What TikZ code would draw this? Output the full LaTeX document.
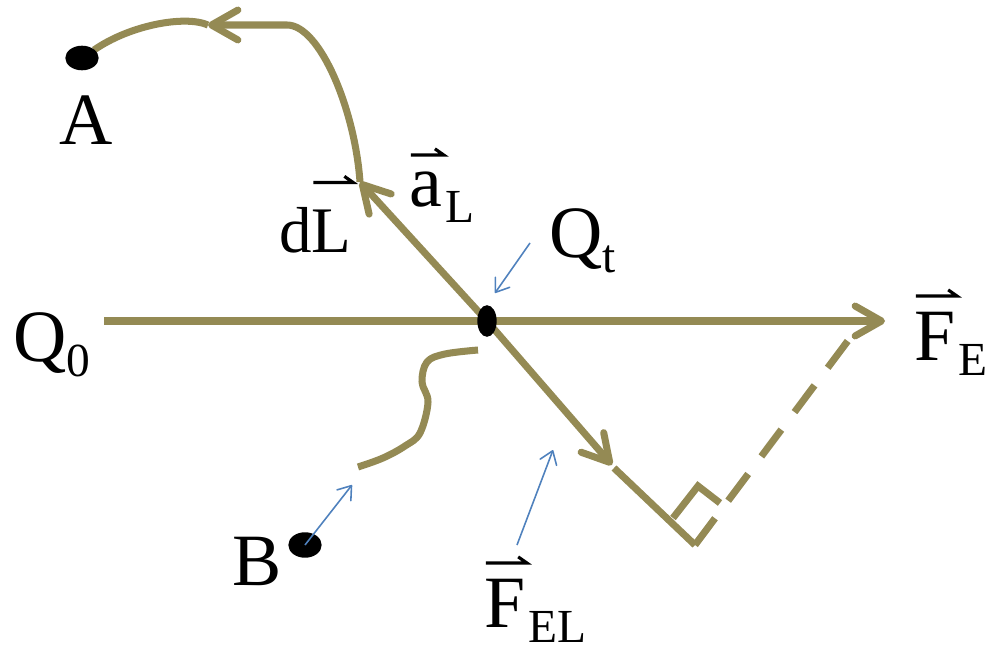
\documentclass[tikz,border=0pt]{standalone}
\usepackage{fontspec}
\setmainfont{Liberation Serif}
\usetikzlibrary{arrows.meta,shapes.geometric}

\definecolor{fieldline}{RGB}{148,138,84}
\definecolor{pointer}{RGB}{79,129,189}
\newsavebox\vecbox
\newcommand{\vecop}[2][8pt]{\sbox\vecbox{#2}\vbox{\offinterlineskip
  \hbox{\tikz\draw[line width=1.8pt] (0pt,0pt) -- (\wd\vecbox,0pt) -- ++(-5pt,3.5pt);}\kern#1\copy\vecbox}}
\newcommand{\lowsub}[1]{\raisebox{-9pt}{\fontsize{27}{31}\selectfont #1}}

\tikzset{
  field/.style={draw=fieldline, line width=4pt},
  fieldarrow/.style={field, -{Straight Barb[round, length=15pt, width=17pt]}},
  pointerarrow/.style={draw=pointer, line width=0.9pt, -{Straight Barb[round, length=7pt, width=10pt]}},
  charge/.style={ellipse, fill=black, inner sep=0pt},
  lbl/.style={inner sep=0pt, font=\fontsize{42}{50}\selectfont},
}

\begin{document}
\begin{tikzpicture}[x=0.02cm, y=-0.02cm]
  \useasboundingbox (0,0) rectangle (988,652);
  \coordinate (qt) at (487,321);
  \coordinate (qzero) at (104,321);
  \coordinate (fe) at (885,321);
  \coordinate (dl) at (360,182);
  \coordinate (topright) at (287,25);
  \coordinate (topleft) at (208,25);
  \coordinate (apt) at (94,50);
  \coordinate (fel) at (612,465);
  \coordinate (felrest) at (614,468);
  \coordinate (corner) at (695,545);
  \coordinate (sqa) at (673,518);
  \coordinate (sqb) at (698,486);
  \coordinate (sqc) at (720,503);
  \coordinate (perpend) at (850,338);
  % field lines
  \draw[fieldarrow] (qzero) to (fe);
  \draw[fieldarrow] (qt) to (dl);
  \draw[fieldarrow] (qt) to (fel);
  \draw[field] (felrest) to (corner);
  \draw[field] (sqa) -- (sqb) -- (sqc);
  \draw[field, dash pattern=on 19pt off 12.5pt] (corner) to (perpend);
  \draw[fieldarrow] (dl) .. controls (355,110) and (320,25) .. (topright) -- (topleft);
  \draw[field] (topleft) .. controls (185,15) and (130,25) .. (apt);
  \draw[field, line join=round] plot[smooth, tension=0.6] coordinates
    {(358,467) (383,458) (405,446) (420,433) (428,402) (422,382) (427,362) (445,354) (478,350)};
  % charges
  \node[charge, minimum width=11pt, minimum height=18pt] (qtdot) at (qt) {};
  \node[charge, minimum width=19pt, minimum height=14pt] (adot) at (82,58) {};
  \node[charge, minimum width=19pt, minimum height=14.5pt] (bdot) at (305,545) {};
  % pointers
  \coordinate (qtptr) at (530,243);
  \coordinate (qtptrtip) at (495,293);
  \coordinate (bptrtip) at (352,485);
  \coordinate (felptr) at (517,545);
  \coordinate (felptrtip) at (553,450);
  \draw[pointerarrow] (qtptr) to (qtptrtip);
  \draw[pointerarrow] (bdot.center) to (bptrtip);
  \draw[pointerarrow] (felptr) to (felptrtip);
  % labels
  \node[lbl, anchor=base] (alabel) at (86,145) {A};
  \node[lbl, anchor=base] (blabel) at (257,585) {B};
  \node[lbl, anchor=base west] (qzerolabel) at (13,361) {Q\lowsub{0}};
  \node[lbl, anchor=base west] (qtlabel) at (549,257) {Q\lowsub{t}};
  \node[lbl, anchor=base west, font=\fontsize{37}{44}\selectfont] (dllabel) at (279,253) {d\vecop[15pt]{L}};
  \node[lbl, anchor=base west] (allabel) at (409,207) {\vecop[9pt]{a}\lowsub{L}};
  \node[lbl, anchor=base west] (felabel) at (914,360) {\vecop{F}\lowsub{E}};
  \node[lbl, anchor=base west] (fellabel) at (484,627) {\vecop{F}\lowsub{EL}};
\end{tikzpicture}
\end{document}
